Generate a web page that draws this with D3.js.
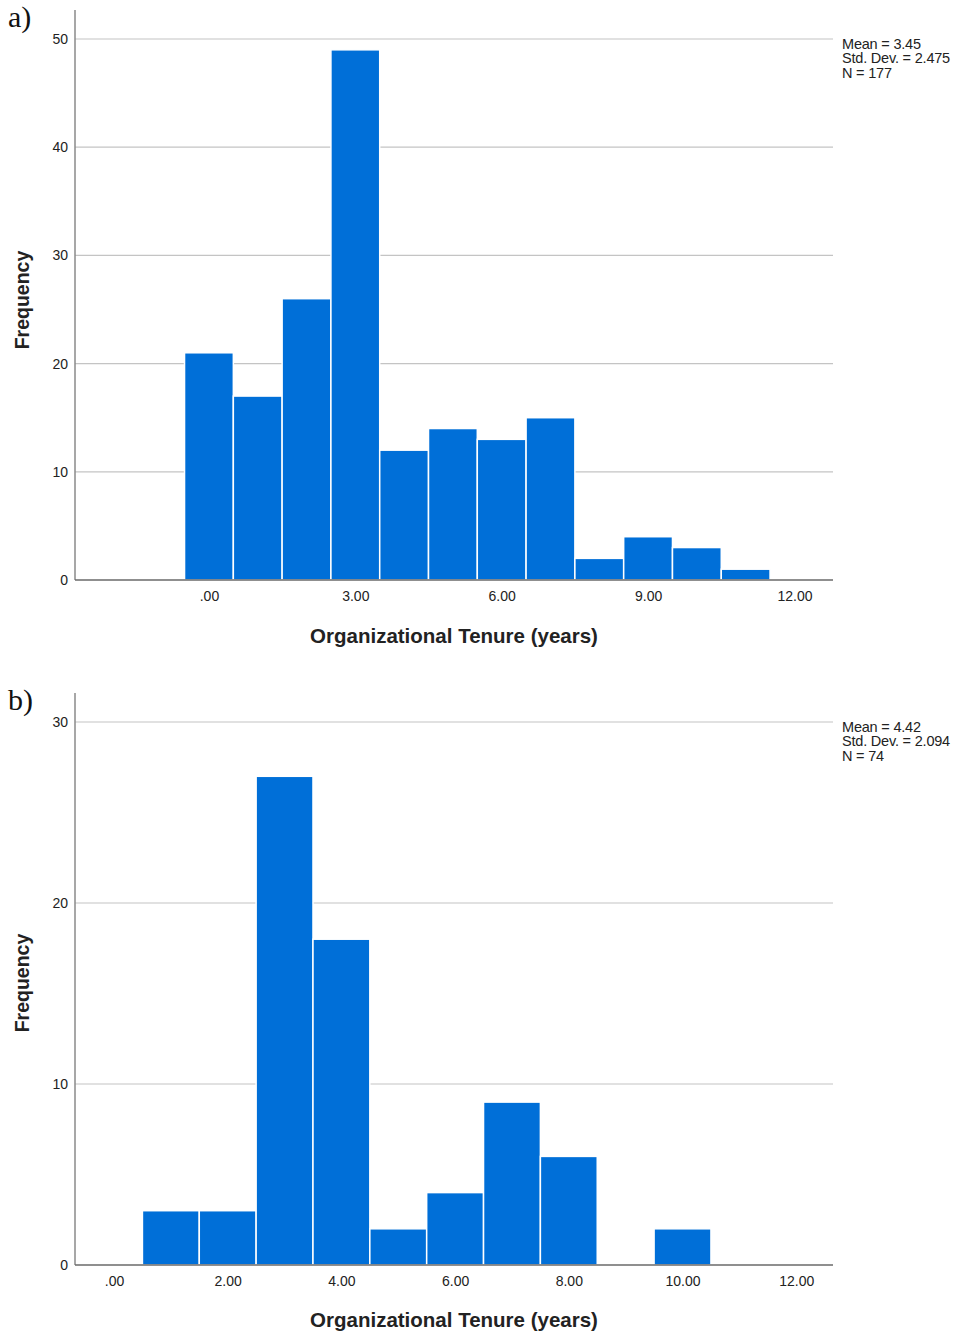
<!DOCTYPE html>
<html><head><meta charset="utf-8">
<script src="https://cdn.jsdelivr.net/npm/d3@7"></script>
<style>body{margin:0;background:#fff}</style>
</head><body>
<svg id="c" width="956" height="1332"></svg>
<script>
// Panel a data
const binsA = [0,1,2,3,4,5,6,7,8,9,10,11];
const countsA = [21,17,26,49,12,14,13,15,2,4,3,1];
const xTicksA = [0,3,6,9,12];
const yTicksA = [0,10,20,30,40,50];
const statsA = ["Mean = 3.45","Std. Dev. = 2.475","N = 177"];
// Panel b data
const binsB = [1,2,3,4,5,6,7,8,9,10];
const countsB = [3,3,27,18,2,4,9,6,0,2];
const xTicksB = [0,2,4,6,8,10,12];
const yTicksB = [0,10,20,30];
const statsB = ["Mean = 4.42","Std. Dev. = 2.094","N = 74"];
const xTitle = "Organizational Tenure (years)";
const yTitle = "Frequency";

const svg = d3.select("#c");
const fmt = d => d===0 ? ".00" : d.toFixed(2);
const SANS = "Liberation Sans, Arial, sans-serif";

function panel(cfg){
  const g = svg.append("g");
  const x = d3.scaleLinear().domain(cfg.xdom).range([75,833]);
  const y = d3.scaleLinear().domain([0,cfg.ymax]).range([cfg.y0, cfg.yTop]);
  g.selectAll("line.grid").data(cfg.yTicks.filter(d=>d>0)).join("line")
    .attr("x1",75).attr("x2",833).attr("y1",d=>y(d)).attr("y2",d=>y(d))
    .attr("stroke","#c4c4c4").attr("stroke-width",1.2);
  g.selectAll("rect").data(cfg.bins.map((b,i)=>({b,c:cfg.counts[i]})).filter(d=>d.c>0)).join("rect")
    .attr("x",d=>x(d.b-0.5)).attr("width",d=>x(d.b+0.5)-x(d.b-0.5))
    .attr("y",d=>y(d.c)).attr("height",d=>y(0)-y(d.c))
    .attr("fill","#006fd8").attr("stroke","#ffffff").attr("stroke-width",1.5);
  const ya = d3.axisLeft(y).tickValues(cfg.yTicks).tickSize(0).tickPadding(7).tickFormat(d3.format("d"));
  const yg = g.append("g").attr("transform","translate(75,0)").call(ya);
  yg.select(".domain").remove();
  g.append("line").attr("x1",75).attr("x2",75).attr("y1",cfg.axisTop).attr("y2",y(0))
    .attr("stroke","#8a8a8a").attr("stroke-width",1.5);
  const xa = d3.axisBottom(x).tickValues(cfg.xTicks).tickSize(0).tickPadding(11).tickFormat(fmt);
  const xg = g.append("g").attr("transform",`translate(0,${y(0)})`).call(xa);
  xg.select(".domain").remove();
  g.append("line").attr("x1",75).attr("x2",833).attr("y1",y(0)).attr("y2",y(0))
    .attr("stroke","#6a6a6a").attr("stroke-width",1.5);
  g.selectAll(".tick text").attr("font-family",SANS).attr("font-size",14).attr("fill","#222");
  g.append("text").attr("x",454).attr("y",cfg.xTitleY).attr("text-anchor","middle")
    .attr("font-family",SANS).attr("font-size",20.5).attr("font-weight","bold")
    .attr("fill","#222").text(xTitle);
  g.append("text").attr("transform",`translate(29,${cfg.yTitleY}) rotate(-90)`).attr("text-anchor","middle")
    .attr("font-family",SANS).attr("font-size",19.5).attr("font-weight","bold")
    .attr("fill","#222").text(yTitle);
  g.selectAll("text.st").data(cfg.stats).join("text")
    .attr("x",842).attr("y",(d,i)=>cfg.statY+i*14.3)
    .attr("font-family",SANS).attr("font-size",14.5).attr("fill","#222")
    .attr("letter-spacing","-0.2").text(d=>d);
  g.append("text").attr("x",8).attr("y",cfg.labY)
    .attr("font-family","Liberation Serif, Times New Roman, serif").attr("font-size",30).attr("fill","#111")
    .text(cfg.label);
}

panel({bins:binsA,counts:countsA,xTicks:xTicksA,yTicks:yTicksA,stats:statsA,
  xdom:[-2.745,12.79],ymax:50,y0:580,yTop:39,axisTop:10,xTitleY:643,yTitleY:300,statY:49,labY:27,label:"a)"});
panel({bins:binsB,counts:countsB,xTicks:xTicksB,yTicks:yTicksB,stats:statsB,
  xdom:[-0.686,12.647],ymax:30,y0:1265,yTop:722,axisTop:693,xTitleY:1327,yTitleY:983,statY:732,labY:710,label:"b)"});
</script>
</body></html>
